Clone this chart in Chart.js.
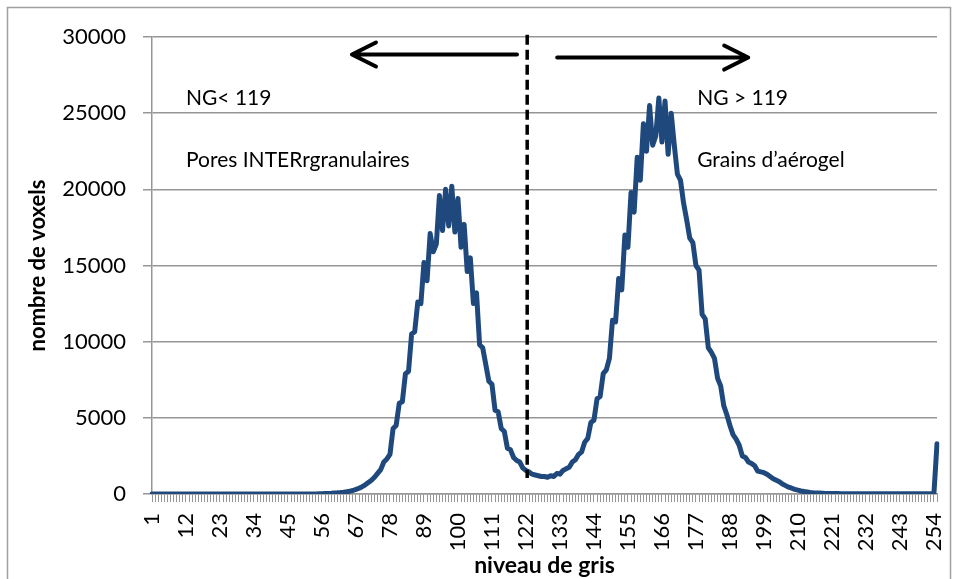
<!DOCTYPE html>
<html>
<head>
<meta charset="utf-8">
<script src="https://cdn.jsdelivr.net/npm/chart.js@4.4.1/dist/chart.umd.min.js"></script>
<style>
    html, body { margin: 0; padding: 0; background: #fff; }
    #wrap { width: 958px; height: 579px; }
</style>
</head>
<body>
<div id="wrap"><canvas id="histo" width="958" height="579"></canvas></div>
<script>
// gray levels 1..255
const levels = Array.from({ length: 255 }, (_, i) => String(i + 1));

// voxel count per gray level
const voxels = [
    0, 0, 0, 0, 0, 0, 0, 0, 0, 0,
    0, 0, 0, 0, 0, 0, 0, 0, 0, 0,
    0, 0, 0, 0, 0, 0, 0, 0, 0, 0,
    0, 0, 0, 0, 0, 0, 0, 0, 0, 0,
    0, 0, 0, 0, 0, 0, 0, 0, 0, 0,
    2, 4, 6, 8, 12, 18, 25, 35, 45, 60,
    75, 95, 120, 150, 185, 230, 300, 380, 480, 600,
    750, 900, 1100, 1350, 1600, 2100, 2300, 2600, 4300, 4500,
    5950, 6050, 7900, 8050, 10500, 10650, 12600, 12500, 15200, 14000,
    17100, 15900, 16400, 19600, 17300, 20000, 17600, 20200, 17200, 19400,
    16200, 17700, 14600, 15500, 12500, 13200, 9800, 9600, 8500, 7400,
    7200, 5500, 5400, 4300, 4100, 3000, 2900, 2400, 2200, 2100,
    1700, 1550, 1450, 1300, 1250, 1200, 1150, 1150, 1100, 1200,
    1150, 1350, 1300, 1550, 1650, 1750, 2100, 2250, 2600, 2750,
    3400, 3650, 4700, 4850, 6250, 6400, 7900, 8150, 8900, 11400,
    11300, 14150, 13400, 17000, 16200, 19800, 18500, 22100, 20600, 24300,
    22500, 25500, 22900, 23500, 26000, 23100, 25800, 22300, 25000, 22900,
    21000, 20600, 19100, 18000, 16800, 16500, 15000, 14700, 11800, 11500,
    9600, 9300, 8900, 7600, 7100, 5800, 5200, 4500, 3900, 3600,
    3200, 2500, 2400, 2100, 2000, 1850, 1500, 1450, 1400, 1300,
    1150, 1000, 900, 800, 650, 550, 450, 380, 300, 250,
    200, 160, 130, 100, 80, 70, 60, 50, 40, 35,
    30, 28, 26, 24, 22, 20, 18, 16, 15, 14,
    12, 12, 12, 12, 12, 12, 12, 12, 12, 12,
    10, 10, 10, 10, 10, 10, 10, 10, 10, 10,
    10, 10, 10, 10, 3300
];

const yTicks = [0, 5000, 10000, 15000, 20000, 25000, 30000];
const labelEvery = 11;

// threshold line and arrows, in category index / voxel units
const threshold = { at: 121.4, from: 1050, to: 30150 };
const arrows = [
    { from: 118.1, to: 64.7, y: 28850 },
    { from: 131.1, to: 192.9, y: 28650 }
];
const notes = [
    { text: 'NG< 119', at: 11, y: 26000 },
    { text: 'Pores INTERrgranulaires', at: 11, y: 21930 },
    { text: 'NG > 119', at: 176.4, y: 26000 },
    { text: 'Grains d\u2019a\u00e9rogel', at: 176.4, y: 21930 }
];

const FONT = 'Lato, "Open Sans", sans-serif';
const GRAY = '#969696';

const overlay = {
    id: 'overlay',
    beforeDraw(chart) {
        const ctx = chart.ctx;
        ctx.save();
        ctx.fillStyle = '#fff';
        ctx.fillRect(0, 0, chart.width, chart.height);
        ctx.strokeStyle = '#a0a0a0';
        ctx.lineWidth = 1.5;
        ctx.strokeRect(7.5, 7.5, 943, 620);
        ctx.restore();
    },
    afterDatasetsDraw(chart) {
        const ctx = chart.ctx;
        const x = chart.scales.x, y = chart.scales.y;
        ctx.save();

        // dashed threshold
        ctx.strokeStyle = '#000';
        ctx.lineWidth = 3.5;
        ctx.setLineDash([10, 5]);
        const tx = x.getPixelForValue(threshold.at);
        ctx.beginPath();
        ctx.moveTo(tx, y.getPixelForValue(threshold.to));
        ctx.lineTo(tx, y.getPixelForValue(threshold.from));
        ctx.stroke();
        ctx.setLineDash([]);

        // arrows
        ctx.lineWidth = 4;
        ctx.lineCap = 'round';
        ctx.lineJoin = 'round';
        arrows.forEach(a => {
            const x0 = x.getPixelForValue(a.from), x1 = x.getPixelForValue(a.to);
            const yy = y.getPixelForValue(a.y);
            const dir = Math.sign(x1 - x0);
            ctx.beginPath();
            ctx.moveTo(x0, yy);
            ctx.lineTo(x1, yy);
            ctx.moveTo(x1 - dir * 24, yy - 12);
            ctx.lineTo(x1, yy);
            ctx.lineTo(x1 - dir * 24, yy + 12);
            ctx.stroke();
        });

        // text notes
        ctx.fillStyle = '#000';
        ctx.font = '21px ' + FONT;
        ctx.textBaseline = 'middle';
        ctx.textAlign = 'left';
        notes.forEach(n => {
            ctx.fillText(n.text, x.getPixelForValue(n.at), y.getPixelForValue(n.y));
        });
        ctx.restore();
    }
};

new Chart(document.getElementById('histo').getContext('2d'), {
    type: 'line',
    data: {
        labels: levels,
        datasets: [{
            data: voxels,
            borderColor: '#1F497D',
            borderWidth: 5,
            borderJoinStyle: 'round',
            borderCapStyle: 'round',
            pointRadius: 0,
            tension: 0,
            fill: false
        }]
    },
    options: {
        responsive: false,
        animation: false,
        layout: { padding: { left: 10, right: 21, top: 37, bottom: 0 } },
        plugins: { legend: { display: false }, tooltip: { enabled: false } },
        scales: {
            x: {
                type: 'category',
                offset: false,
                afterFit: s => { s.height = 85; s.paddingLeft = 0; s.paddingRight = 0; },
                grid: { display: true, drawOnChartArea: false, drawTicks: true, tickLength: 8, color: GRAY, lineWidth: 1 },
                border: { display: true, color: GRAY, width: 1.5 },
                ticks: {
                    autoSkip: false,
                    minRotation: 90,
                    maxRotation: 90,
                    padding: 11,
                    color: '#000',
                    font: { family: FONT, size: 22 },
                    callback: (v, i) => (i % labelEvery === 0 ? levels[i] : '')
                },
                title: {
                    display: true,
                    text: 'niveau de gris',
                    color: '#000',
                    font: { family: FONT, size: 23, weight: 'bold' },
                    padding: { top: 0, bottom: 0 }
                }
            },
            y: {
                min: 0,
                max: 30000,
                afterFit: s => { s.width = 142; },
                afterBuildTicks: s => { s.ticks = yTicks.map(v => ({ value: v })); },
                grid: { color: GRAY, lineWidth: 1.5, tickLength: 9 },
                border: { display: true, color: GRAY, width: 1.5 },
                ticks: {
                    padding: 17,
                    color: '#000',
                    font: { family: FONT, size: 22 },
                    callback: v => String(v)
                },
                title: {
                    display: true,
                    text: 'nombre de voxels',
                    color: '#000',
                    font: { family: FONT, size: 22, weight: 'bold' },
                    padding: { top: 15, bottom: 0 }
                }
            }
        }
    },
    plugins: [overlay]
});
</script>
</body>
</html>
